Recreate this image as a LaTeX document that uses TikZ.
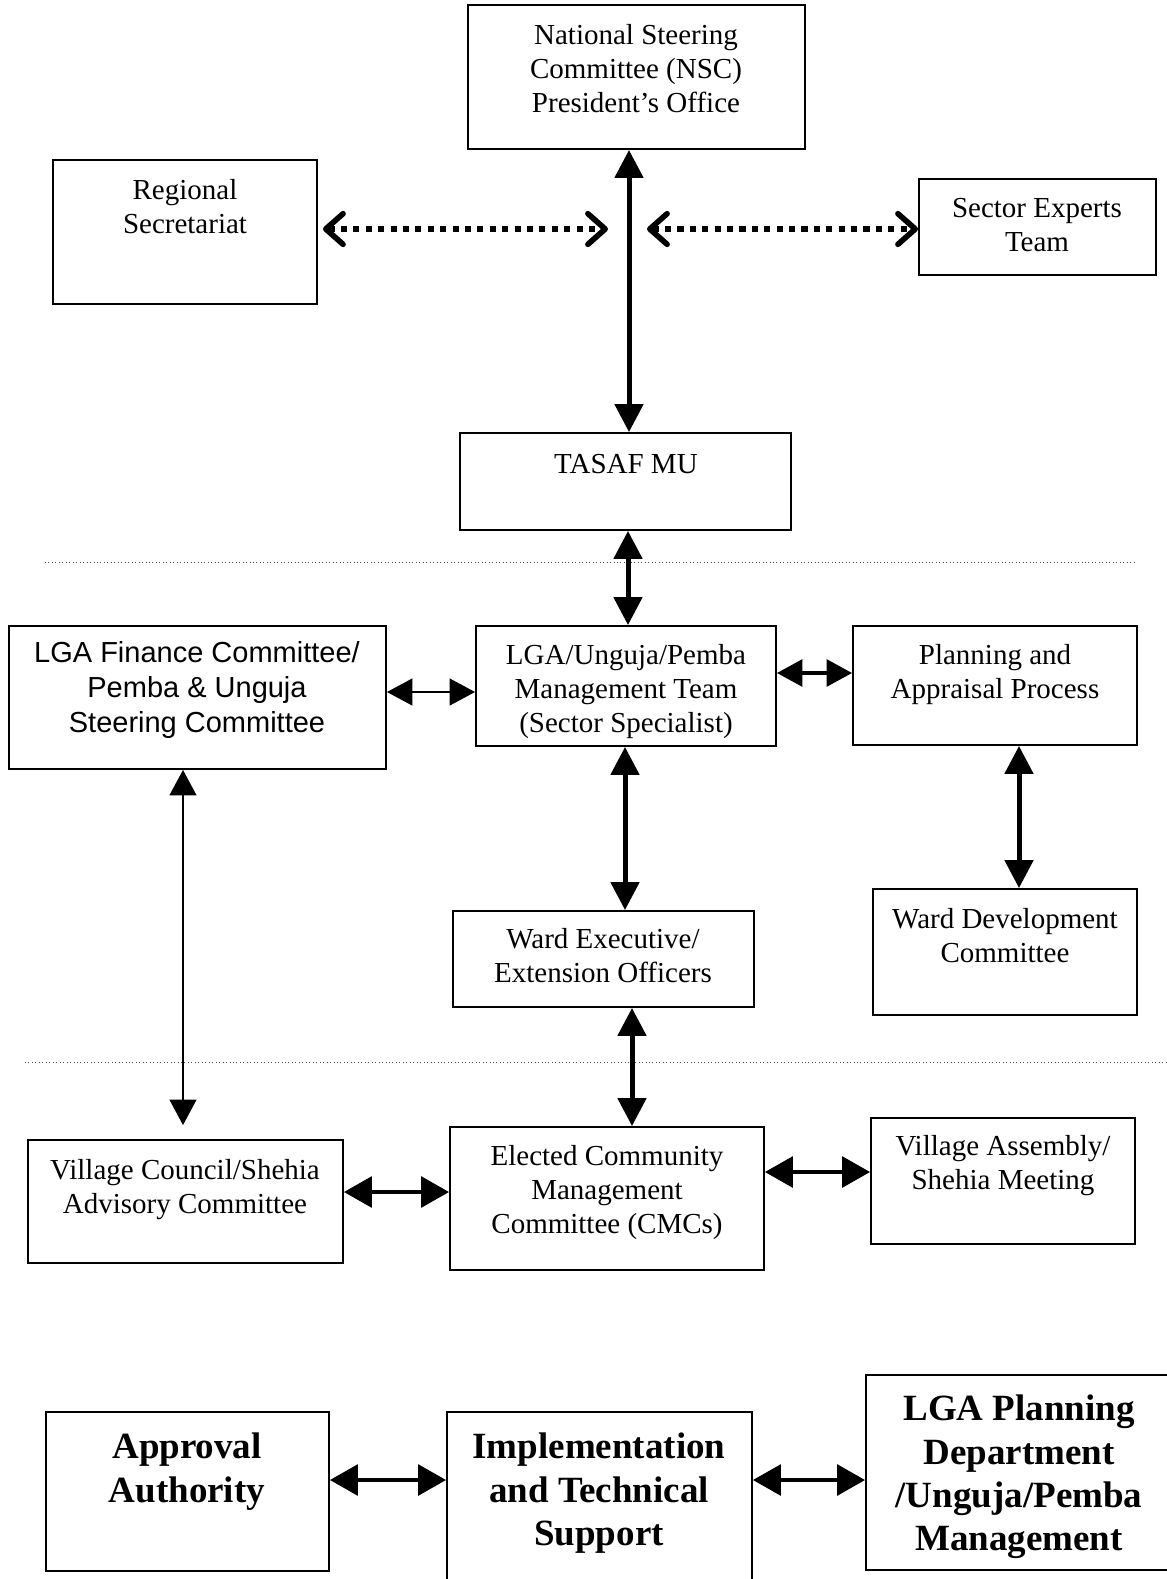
\documentclass[tikz,border=0pt]{standalone}
\usepackage{fontspec}
\setmainfont{Liberation Serif}
\newfontfamily\finsans{Liberation Sans}
\usetikzlibrary{arrows.meta,fit}
\begin{document}
\begin{tikzpicture}[x=0.75pt,y=-0.75pt,
  box/.style={draw,line width=1.4pt,inner sep=0pt},
  txt/.style={anchor=north,align=center,inner sep=0pt,font=\fontsize{21.75}{25.5}\selectfont},
  sanstxt/.style={anchor=north,align=center,inner sep=0pt,font=\finsans\fontsize{21.75}{26.25}\selectfont},
  bigtxt/.style={anchor=north,align=center,inner sep=0pt,font=\fontsize{27.75}{32.3}\selectfont\bfseries},
  heavy/.style={line width=3.75pt,{Triangle[length=21pt,width=21pt]}-{Triangle[length=21pt,width=21pt]}},
  medium/.style={line width=3pt,{Triangle[length=21pt,width=23pt]}-{Triangle[length=21pt,width=23pt]}},
  light/.style={line width=1.5pt,{Triangle[length=19pt,width=20pt]}-{Triangle[length=19pt,width=20pt]}},
  dotlink/.style={line width=4.2pt,dash pattern=on 4.6pt off 4.7pt,
    {Straight Barb[length=13pt,width=23pt,round]}-{Straight Barb[length=13pt,width=23pt,round]}},
  sep/.style={dotted,line width=0.6pt,black!70}]
\useasboundingbox (0,0) rectangle (1167,1579);

% ---------- boxes ----------
\node[box,fit={(468,5) (805,149)}] (nsc) {};
\node[box,fit={(53,160) (317,304)}] (reg) {};
\node[box,fit={(919,179) (1156,275)}] (sec) {};
\node[box,fit={(460,433) (791,530)}] (tasaf) {};
\node[box,fit={(9,626) (386,769)}] (fin) {};
\node[box,fit={(476,626) (776,746)}] (mgmt) {};
\node[box,fit={(853,626) (1137,745)}] (plan) {};
\node[box,fit={(873,889) (1137,1015)}] (wdev) {};
\node[box,fit={(453,911) (754,1007)}] (wexec) {};
\node[box,fit={(28,1140) (343,1263)}] (vc) {};
\node[box,fit={(450,1127) (764,1270)}] (cmc) {};
\node[box,fit={(871,1118) (1135,1244)}] (va) {};
\node[box,fit={(46,1412) (329,1571)}] (appr) {};
\node[box,fit={(447,1412) (752,1600)}] (impl) {};
\node[box,fit={(866,1375) (1175,1570)}] (lgap) {};

% ---------- labels ----------
\node[txt] (nscT) at (636,24) {National Steering\\Committee (NSC)\\President’s Office};
\node[txt] (regT) at (185,179) {Regional\\Secretariat};
\node[txt] (secT) at (1037,198) {Sector Experts\\Team};
\node[txt] (tasafT) at (626,454) {TASAF MU};
\node[sanstxt] (finT) at (197,641) {LGA Finance Committee/\\Pemba \& Unguja\\Steering Committee};
\node[txt] (mgmtT) at (626,644) {LGA/Unguja/Pemba\\Management Team\\(Sector Specialist)};
\node[txt] (planT) at (995,644) {Planning and\\Appraisal Process};
\node[txt] (wdevT) at (1005,908) {Ward Development\\Committee};
\node[txt] (wexecT) at (603,928) {Ward Executive/\\Extension Officers};
\node[txt] (vcT) at (185,1159) {Village Council/Shehia\\Advisory Committee};
\node[txt] (cmcT) at (607,1145) {Elected Community\\Management\\Committee (CMCs)};
\node[txt] (vaT) at (1003,1135) {Village Assembly/\\Shehia Meeting};
\node[bigtxt] (apprT) at (187,1433) {Approval\\Authority};
\node[bigtxt] (implT) at (599,1433) {Implementation\\and Technical\\Support};
\node[bigtxt] (lgapT) at (1019,1395) {LGA Planning\\Department\\/Unguja/Pemba\\Management};

% ---------- level separators ----------
\draw[sep] (45,562) -- (1136,562);
\draw[sep] (25,1062) -- (1167,1062);

% ---------- connector guides ----------
\coordinate (xa) at (629,0);
\coordinate (xb) at (628,0);
\coordinate (xc) at (625,0);
\coordinate (xd) at (1019,0);
\coordinate (xe) at (183,0);
\coordinate (xf) at (632,0);
\coordinate (ya) at (0,692);
\coordinate (yb) at (0,673);
\coordinate (yc) at (0,1192);
\coordinate (yd) at (0,1172);
\coordinate (ye) at (0,1480);
\coordinate (vl) at (629,229);

% ---------- connectors ----------
\draw[heavy] (nsc.south -| xa) -- (tasaf.north -| xa);
\draw[dotlink,shorten <=3.75pt] (reg.east |- vl) -- ([xshift=-15.75pt]vl);
\draw[dotlink] ([xshift=13.5pt]vl) -- (sec.west |- vl);
\draw[heavy] (tasaf.south -| xb) -- (mgmt.north -| xb);
\draw[light] (fin.east |- ya) -- (mgmt.west |- ya);
\draw[light,line width=2.6pt] (mgmt.east |- yb) -- (plan.west |- yb);
\draw[heavy] (mgmt.south -| xc) -- (wexec.north -| xc);
\draw[heavy] (plan.south -| xd) -- (wdev.north -| xd);
\draw[light,shorten >=10.5pt] (fin.south -| xe) -- (vc.north -| xe);
\draw[heavy] (wexec.south -| xf) -- (cmc.north -| xf);
\draw[medium] (vc.east |- yc) -- (cmc.west |- yc);
\draw[medium] (cmc.east |- yd) -- (va.west |- yd);
\draw[medium] (appr.east |- ye) -- (impl.west |- ye);
\draw[medium] (impl.east |- ye) -- (lgap.west |- ye);
\end{tikzpicture}
\end{document}
